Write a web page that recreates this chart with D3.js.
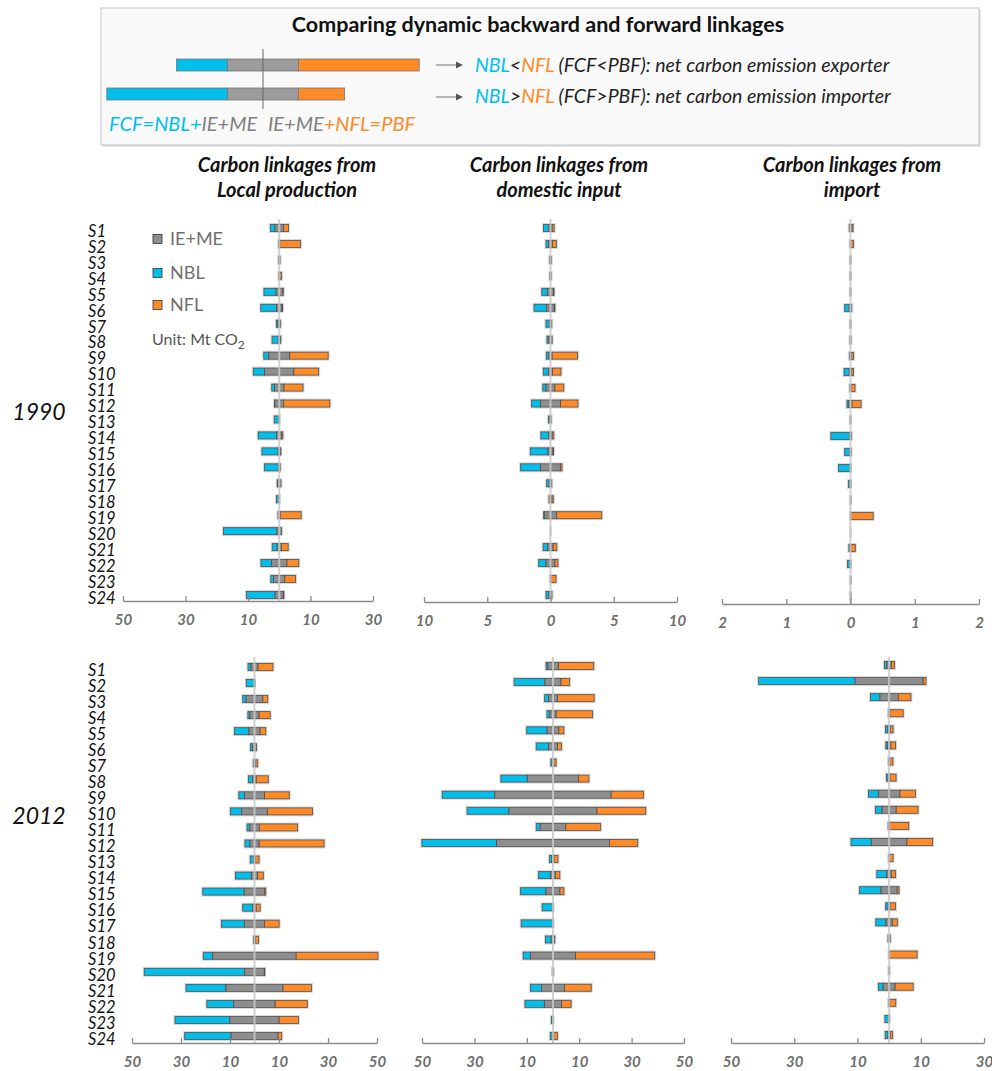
<!DOCTYPE html>
<html>
<head>
<meta charset="utf-8">
<script src="https://cdn.jsdelivr.net/npm/d3@7"></script>
<style>
  body { margin: 0; background: #fff; }
  svg { display: block; font-family: Lato, "Open Sans", sans-serif; }
</style>
</head>
<body>
<script>
const sectors = ["S1","S2","S3","S4","S5","S6","S7","S8","S9","S10","S11","S12",
                 "S13","S14","S15","S16","S17","S18","S19","S20","S21","S22","S23","S24"];

// 1990, carbon linkages from local production (Mt CO2)
const nbl1990Local = [1.5,0,0,0,3.9,5.0,0.5,2.0,1.6,3.6,0.9,0.1,1.5,5.9,5.2,4.4,0.1,0.8,0,17.1,1.6,3.4,0.9,9.2];
const ie1990Local  = [2.7,0.4,0.5,0.3,2.0,1.8,0.8,0.6,6.7,9.4,3.0,2.8,0.2,1.7,0.7,0.6,1.1,0.2,0.8,1.5,1.3,4.9,3.6,2.6];
const nfl1990Local = [1.6,6.6,0,0.6,0.3,0.1,0,0.2,12.3,7.9,6.1,14.8,0,0.3,0.05,0,0,0,6.6,0,2.2,3.8,3.4,0.1];

// 1990, from domestic input
const nbl1990Dom = [0.42,0.21,0,0,0.45,1.0,0.26,0.15,0.2,0.4,0.26,0.69,0.1,0.63,1.4,1.58,0.2,0,0.05,0,0.37,0.58,0,0.24];
const ie1990Dom  = [0.26,0.29,0.13,0.1,0.47,0.6,0.2,0.26,0.26,0.34,0.7,1.6,0.1,0.26,0.4,1.56,0.2,0.24,0.98,0,0.42,0.7,0.03,0.23];
const nfl1990Dom = [0.16,0.32,0,0,0.02,0.05,0,0,2.0,0.66,0.7,1.37,0,0.13,0.02,0.13,0,0.1,3.56,0,0.29,0.24,0.42,0];

// 1990, from import
const nbl1990Imp = [0,0,0,0,0,0.07,0,0,0,0.08,0,0.03,0,0.29,0.08,0.18,0.03,0,0,0,0.02,0.04,0,0];
const ie1990Imp  = [0.04,0.01,0.01,0.01,0.01,0.04,0.01,0.015,0.035,0.04,0.02,0.05,0.01,0.03,0.02,0.01,0.005,0.005,0.005,0,0.01,0.01,0.005,0.005];
const nfl1990Imp = [0.02,0.04,0,0,0,0,0,0,0.03,0.025,0.06,0.14,0,0,0,0,0,0,0.35,0,0.07,0,0,0];

// 2012, from local production
const nbl2012Local = [1.2,3.3,1.4,0.8,5.9,0.8,0,1.8,2.3,4.6,1.1,2.0,1.5,6.5,16.9,4.1,9.3,0,3.9,41,16.3,11.0,22.4,18.9];
const ie2012Local  = [2.9,0.1,6.8,3.8,4.6,1.6,1.0,1.4,8.2,10.5,3.9,3.8,0.5,2.6,8.4,1.4,8.3,0.9,34,8.0,23.3,16.9,20.1,19.2];
const nfl2012Local = [6.1,0,2.0,4.5,2.3,0,0.8,4.9,10.1,18.4,15.6,26.5,1.6,2.3,0.4,1.6,5.9,1.2,33.4,0.1,11.6,13.1,7.9,1.5];

// 2012, from domestic input
const nbl2012Dom = [0.6,11.8,1.5,1.1,7.8,4.7,0.5,10.1,20.1,16.0,1.5,28.5,0.9,4.6,9.7,4.1,12.1,2.2,2.8,0,4.2,7.4,0.6,0.8];
const ie2012Dom  = [4.1,6.1,3.4,2.4,4.5,3.4,0.6,19.6,44.4,33.6,9.8,43.1,0.8,1.8,5.3,0.1,0.1,1.4,17.2,0.5,8.8,6.6,0.05,0.5];
const nfl2012Dom = [13.5,3.3,14.0,13.9,1.9,1.5,0.9,3.9,12.3,18.6,13.2,10.8,1.5,1.7,1.5,0,0,0,30.2,0,10.2,3.6,0,1.4];

// 2012, from import
const nbl2012Imp = [0.8,30.5,3.0,0,0.8,0.5,0,0.5,3.1,2.1,0.2,6.4,0,3.2,6.8,0.8,3.2,0,0,0,1.5,0,1.3,0.9];
const ie2012Imp  = [1.4,21.5,5.8,0.5,0.7,1.1,0.4,0.6,6.8,4.5,0.2,11.3,0.3,1.4,5.1,0.6,2.0,0.7,0.1,0.2,3.8,0.4,0.05,0.7];
const nfl2012Imp = [1.0,0.9,4.0,4.2,0.9,1.5,1.0,1.9,4.9,6.9,6.1,8.1,1.1,1.3,0.6,1.7,1.6,0,8.8,0,5.7,1.9,0,0.7];

const ticks1990Local = [-50,-30,-10,10,30];
const ticks1990Dom = [-10,-5,0,5,10];
const ticks1990Imp = [-2,-1,0,1,2];
const ticks2012Local = [-50,-30,-10,10,30,50];
const ticks2012Dom = [-50,-30,-10,10,30,50];
const ticks2012Imp = [-50,-30,-10,10,30];

const years = ["1990", "2012"];
const headers = [["Carbon linkages from", "Local production"],
                 ["Carbon linkages from", "domestic input"],
                 ["Carbon linkages from", "import"]];

const CYAN = "#00bfea", GREY = "#8e8e8e", ORANGE = "#ff8a26";

const W = 992, H = 1071;
const svg = d3.select("body").append("svg").attr("width", W).attr("height", H);

// ---------- explanation box at the top ----------
const box = svg.append("g");
box.append("rect").attr("x", 103).attr("y", 10).attr("width", 878).attr("height", 137).attr("fill", "#e4e4e4");
box.append("rect").attr("x", 101).attr("y", 8).attr("width", 878).attr("height", 137)
  .attr("fill", "#f9f9f9").attr("stroke", "#c4c4c4");
box.append("text").attr("x", 538).attr("y", 32).attr("text-anchor", "middle")
  .attr("font-size", 21.5).attr("font-weight", "bold").attr("fill", "#111")
  .text("Comparing dynamic backward and forward linkages");

// sample bars (illustration)
const sx = d3.scaleLinear().domain([-5, 5]).range([192, 334]);
const sample = [
  { y: 59, parts: [[-6.1, -2.5, CYAN], [-2.5, 2.5, "#9c9c9c"], [2.5, 11, ORANGE]] },
  { y: 88, parts: [[-11, -2.5, CYAN], [-2.5, 2.5, "#9c9c9c"], [2.5, 5.75, ORANGE]] }
];
sample.forEach(b => {
  box.selectAll(null).data(b.parts).enter().append("rect")
    .attr("x", d => sx(d[0])).attr("width", d => sx(d[1]) - sx(d[0]))
    .attr("y", b.y).attr("height", 12).attr("fill", d => d[2])
    .attr("stroke", "#777").attr("stroke-width", 0.8);
});
box.append("line").attr("x1", sx(0)).attr("x2", sx(0)).attr("y1", 49).attr("y2", 109)
  .attr("stroke", "#666").attr("stroke-width", 1);

[65, 97].forEach(yy => {
  box.append("line").attr("x1", 436).attr("x2", 458).attr("y1", yy).attr("y2", yy)
    .attr("stroke", "#888").attr("stroke-width", 1.2);
  box.append("path").attr("d", `M456,${yy - 3.5}L463,${yy}L456,${yy + 3.5}Z`).attr("fill", "#555");
});

function richText(x, y, size, parts) {
  const t = box.append("text").attr("x", x).attr("y", y)
    .attr("font-size", size).attr("font-style", "italic");
  parts.forEach(p => t.append("tspan").attr("fill", p[1]).text(p[0]));
}
richText(475, 72, 19.5, [["NBL", CYAN], ["<", "#222"], ["NFL", ORANGE], [" (FCF<PBF): net carbon emission exporter", "#222"]]);
richText(475, 103, 19.5, [["NBL", CYAN], [">", "#222"], ["NFL", ORANGE], [" (FCF>PBF): net carbon emission importer", "#222"]]);
richText(109, 131, 20, [["FCF=NBL+", CYAN], ["IE+ME", "#808080"]]);
richText(268, 131, 20, [["IE+ME", "#808080"], ["+NFL=PBF", ORANGE]]);

// ---------- column headers & year labels ----------
const headerX = [287, 559, 852];
headers.forEach((h, i) => {
  svg.append("text").attr("x", headerX[i]).attr("y", 172).attr("text-anchor", "middle")
    .attr("font-size", 20).attr("font-weight", "bold").attr("font-style", "italic").attr("fill", "#111")
    .text(h[0]);
  svg.append("text").attr("x", headerX[i]).attr("y", 197).attr("text-anchor", "middle")
    .attr("font-size", 20).attr("font-weight", "bold").attr("font-style", "italic").attr("fill", "#111")
    .text(h[1]);
});
const yearY = [420, 824];
years.forEach((yr, i) => {
  svg.append("text").attr("x", 39).attr("y", yearY[i]).attr("text-anchor", "middle")
    .attr("font-size", 23).attr("font-style", "italic").attr("fill", "#111").text(yr);
});

// ---------- panels ----------
const panels = [
  { nbl: nbl1990Local, ie: ie1990Local, nfl: nfl1990Local, domain: [-50, 30], range: [123, 373], ticks: ticks1990Local, rows: [228, 595], axisY: 601, top: 219, labels: true },
  { nbl: nbl1990Dom, ie: ie1990Dom, nfl: nfl1990Dom, domain: [-10, 10], range: [424, 677], ticks: ticks1990Dom, rows: [228, 595], axisY: 602, top: 219 },
  { nbl: nbl1990Imp, ie: ie1990Imp, nfl: nfl1990Imp, domain: [-2, 2], range: [722, 979], ticks: ticks1990Imp, rows: [228, 596], axisY: 604, top: 219 },
  { nbl: nbl2012Local, ie: ie2012Local, nfl: nfl2012Local, domain: [-50, 50], range: [132, 377], ticks: ticks2012Local, rows: [667, 1036], axisY: 1043, top: 657, labels: true },
  { nbl: nbl2012Dom, ie: ie2012Dom, nfl: nfl2012Dom, domain: [-50, 50], range: [422, 684], ticks: ticks2012Dom, rows: [666, 1036], axisY: 1043, top: 657 },
  { nbl: nbl2012Imp, ie: ie2012Imp, nfl: nfl2012Imp, domain: [-50, 30], range: [731, 984], ticks: ticks2012Imp, rows: [665, 1035], axisY: 1043, top: 657 }
];

const barH = 7;

panels.forEach(p => {
  const x = d3.scaleLinear().domain(p.domain).range(p.range);
  const y = d3.scalePoint().domain(sectors).range(p.rows);
  const g = svg.append("g");

  const rows = sectors.map((s, i) => ({ s, nbl: p.nbl[i], ie: p.ie[i], nfl: p.nfl[i] }));

  // soft halo behind each bar
  g.selectAll(".halo").data(rows).enter().append("rect")
    .attr("x", d => x(-d.ie / 2 - d.nbl) - 1.5)
    .attr("width", d => x(d.ie / 2 + d.nfl) - x(-d.ie / 2 - d.nbl) + 3)
    .attr("y", d => y(d.s) - barH / 2 - 1.5).attr("height", barH + 3)
    .attr("fill", "#d8d8d8");

  const segs = [];
  rows.forEach(d => {
    const h = d.ie / 2;
    segs.push({ s: d.s, a: -h - d.nbl, b: -h, c: CYAN });
    segs.push({ s: d.s, a: -h, b: h, c: GREY });
    segs.push({ s: d.s, a: h, b: h + d.nfl, c: ORANGE });
  });
  g.selectAll(".seg").data(segs.filter(d => d.b > d.a)).enter().append("rect")
    .attr("x", d => x(d.a)).attr("width", d => Math.max(x(d.b) - x(d.a), 0.6))
    .attr("y", d => y(d.s) - barH / 2).attr("height", barH)
    .attr("fill", d => d.c).attr("stroke", "#505050").attr("stroke-width", 0.8);

  // zero line
  g.append("line").attr("x1", x(0)).attr("x2", x(0)).attr("y1", p.top).attr("y2", p.axisY)
    .attr("stroke", "#c9c9c9").attr("stroke-width", 2).attr("opacity", 0.85);

  // axis
  const axis = d3.axisBottom(x).tickValues(p.ticks).tickFormat(d => Math.abs(d))
    .tickSizeInner(-5).tickSizeOuter(0).tickPadding(13);
  const ax = g.append("g").attr("transform", `translate(0,${p.axisY})`).call(axis);
  ax.select(".domain").attr("stroke", "#8a8a8a").attr("stroke-width", 1.5);
  ax.selectAll(".tick line").attr("stroke", "#8a8a8a").attr("stroke-width", 1.3);
  ax.selectAll(".tick text").attr("fill", "#6e6e6e").attr("font-size", 15)
    .attr("font-weight", "bold").attr("font-style", "italic")
    .attr("font-family", "Lato, 'Open Sans', sans-serif");

  if (p.labels) {
    g.selectAll(".lab").data(sectors).enter().append("text")
      .attr("x", 88).attr("y", d => y(d) + 3).attr("dy", "0.35em")
      .attr("font-size", 16.5).attr("font-style", "italic").attr("fill", "#111")
      .text(d => d);
  }
});

// ---------- legend inside the first panel ----------
const legend = [["IE+ME", GREY, 239], ["NBL", CYAN, 273], ["NFL", ORANGE, 305]];
const lg = svg.append("g");
legend.forEach(l => {
  lg.append("rect").attr("x", 153).attr("y", l[2] - 4.5).attr("width", 9).attr("height", 9)
    .attr("fill", l[1]).attr("stroke", "#333").attr("stroke-width", 0.8);
  lg.append("text").attr("x", 170).attr("y", l[2]).attr("dy", "0.35em")
    .attr("font-size", 18).attr("fill", "#707070").text(l[0]);
});
const unit = lg.append("text").attr("x", 152).attr("y", 339).attr("dy", "0.35em")
  .attr("font-size", 16).attr("fill", "#555");
unit.append("tspan").text("Unit: Mt CO");
unit.append("tspan").attr("font-size", 12).attr("dy", 4).text("2");
</script>
</body>
</html>
